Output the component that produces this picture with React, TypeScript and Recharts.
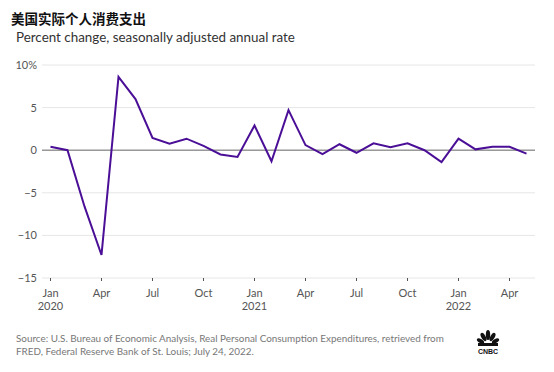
import React from 'react';
import { LineChart, Line, XAxis, YAxis, CartesianGrid, ReferenceLine } from 'recharts';

// monthly values, Jan 2020 .. May 2022
const values = [
  0.4, 0, -6.6, -12.3, 8.6, 6.0, 1.45, 0.75, 1.35, 0.5, -0.5, -0.8,
  2.9, -1.3, 4.7, 0.6, -0.45, 0.7, -0.3, 0.8, 0.35, 0.8, 0, -1.4,
  1.35, 0.1, 0.4, 0.4, -0.4,
];
const xTicks = [0, 3, 6, 9, 12, 15, 18, 21, 24, 27];
const xTickMonths = ['Jan', 'Apr', 'Jul', 'Oct', 'Jan', 'Apr', 'Jul', 'Oct', 'Jan', 'Apr'];
const xTickYears = ['2020', '', '', '', '2021', '', '', '', '2022', ''];
const yTicks = [-15, -10, -5, 0, 5, 10];

const data = values.map((v, i) => ({ idx: i, value: v }));

const FONT = 'Lato, "Open Sans", sans-serif';

const MonthTick: React.FC<any> = ({ x, y, payload }) => {
  const k = xTicks.indexOf(payload.value);
  return (
    <g transform={`translate(${x},${y})`}>
      <text textAnchor="middle" fill="#555" fontSize={11} fontFamily={FONT}>
        <tspan x={0} dy={14}>{xTickMonths[k]}</tspan>
        {xTickYears[k] && <tspan x={0} dy={13}>{xTickYears[k]}</tspan>}
      </text>
    </g>
  );
};

const fmtY = (v: number) => (v === 10 ? '10%' : v < 0 ? '\u2212' + Math.abs(v) : String(v));

const Logo: React.FC = () => (
  <svg width={24} height={28} style={{ position: 'absolute', left: 476, top: 329 }}>
    <g fill="#111">
      <ellipse cx={12} cy={6} rx={2.2} ry={5} />
      <ellipse cx={7.5} cy={8} rx={2.2} ry={4.5} transform="rotate(-30 7.5 8)" />
      <ellipse cx={16.5} cy={8} rx={2.2} ry={4.5} transform="rotate(30 16.5 8)" />
      <ellipse cx={4.5} cy={12} rx={2} ry={4} transform="rotate(-60 4.5 12)" />
      <ellipse cx={19.5} cy={12} rx={2} ry={4} transform="rotate(60 19.5 12)" />
      <rect x={2} y={14} width={20} height={3} />
    </g>
    <text x={12} y={25} textAnchor="middle" fontSize={7} fontWeight={900} fontFamily="Arial, sans-serif" fill="#111">CNBC</text>
  </svg>
);

export default function App() {
  return (
    <div style={{ position: 'absolute', left: 0, top: 0, width: 554, height: 372, background: '#fff', fontFamily: FONT }}>
      <div style={{ position: 'absolute', left: 11, top: 8, fontSize: 13.5, fontWeight: 700, color: '#111', fontFamily: '"Noto Sans CJK SC", sans-serif', lineHeight: '20px' }}>
        美国实际个人消费支出
      </div>
      <div style={{ position: 'absolute', left: 16, top: 29, fontSize: 13.4, color: '#333', lineHeight: '16px' }}>
        Percent change, seasonally adjusted annual rate
      </div>
      <LineChart
        width={554}
        height={372}
        data={data}
        margin={{ top: 65, right: 19, left: 8, bottom: 54 }}
        style={{ position: 'absolute', left: 0, top: 0 }}
      >
        <CartesianGrid vertical={false} stroke="#e6e6e6" strokeWidth={1} />
        <XAxis
          dataKey="idx"
          type="number"
          domain={[-0.5, 28.5]}
          ticks={xTicks}
          interval={0}
          axisLine={false}
          tickLine={{ stroke: '#555' }}
          tickSize={3}
          tickMargin={2}
          tick={<MonthTick />}
          height={40}
        />
        <YAxis
          type="number"
          domain={[-15, 10]}
          ticks={yTicks}
          interval={0}
          axisLine={false}
          tickLine={false}
          tickSize={3}
          tickMargin={2}
          width={34}
          tickFormatter={fmtY}
          tick={{ fill: '#555', fontSize: 11, fontFamily: FONT }}
        />
        <ReferenceLine y={0} stroke="#999" strokeWidth={1.5} />
        <Line
          type="linear"
          dataKey="value"
          stroke="#4a0f96"
          strokeWidth={2}
          dot={false}
          isAnimationActive={false}
        />
      </LineChart>
      <div style={{ position: 'absolute', left: 16, top: 332, fontSize: 9.9, color: '#777', lineHeight: '13px', width: 460 }}>
        Source: U.S. Bureau of Economic Analysis, Real Personal Consumption Expenditures, retrieved from
        <br />
        FRED, Federal Reserve Bank of St. Louis; July 24, 2022.
      </div>
      <Logo />
    </div>
  );
}
